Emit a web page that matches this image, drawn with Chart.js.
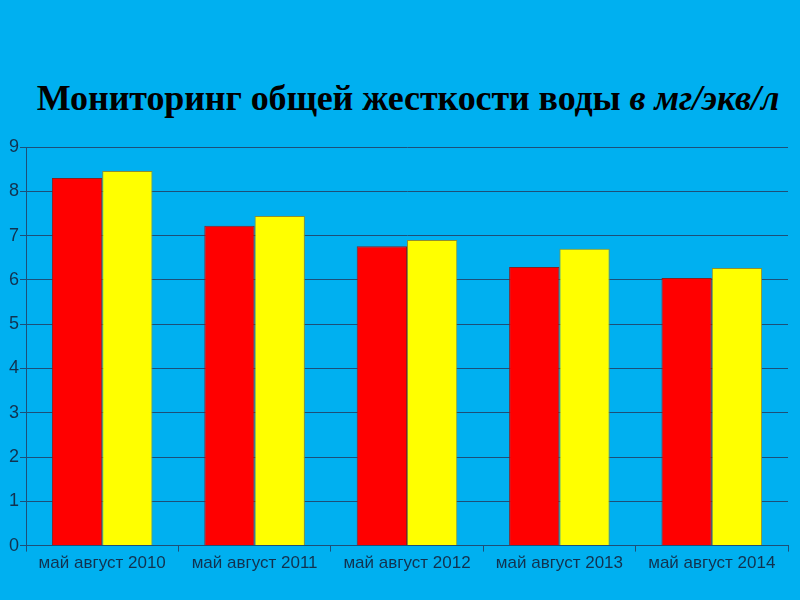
<!DOCTYPE html>
<html>
<head>
<meta charset="utf-8">
<script src="https://cdn.jsdelivr.net/npm/chart.js@4/dist/chart.umd.min.js"></script>
<style>
    body { margin: 0; background: #00B0F0; width: 800px; height: 600px; overflow: hidden; }
    #title {
        position: absolute; left: 8px; top: 77px; width: 800px; text-align: center;
        font: bold 36px "Liberation Serif", "Times New Roman", serif; color: #000;
        letter-spacing: -0.1px;
    }
    #title i { font-weight: bold; }
    #wrap { position: absolute; left: 0; top: 0; width: 800px; height: 600px; }
</style>
</head>
<body>
<div id="title">Мониторинг общей жесткости воды <i>в мг/экв/л</i></div>
<div id="wrap"><canvas id="chart"></canvas></div>
<script>
//categories and values
const periods = ['май август 2010', 'май август 2011', 'май август 2012', 'май август 2013', 'май август 2014'];
const mayValues = [8.30, 7.22, 6.76, 6.29, 6.04];
const augustValues = [8.46, 7.44, 6.90, 6.70, 6.27];

const gridColor = '#1d4f78';
const textColor = '#12324f';

document.addEventListener('DOMContentLoaded', function() {
    const ctx = document.getElementById('chart').getContext('2d');

    new Chart(ctx, {
        type: 'bar',
        data: {
            labels: periods,
            datasets: [{
                label: 'май',
                data: mayValues,
                backgroundColor: '#ff0000',
                borderColor: '#8a2020',
                borderWidth: 1,
                barPercentage: 1,
                categoryPercentage: 0.66
            }, {
                label: 'август',
                data: augustValues,
                backgroundColor: '#ffff00',
                borderColor: '#8f8f30',
                borderWidth: 1,
                barPercentage: 1,
                categoryPercentage: 0.66
            }]
        },
        options: {
            responsive: true,
            maintainAspectRatio: false,
            animation: false,
            layout: { padding: { top: 147, right: 12, left: 8, bottom: 24 } },
            plugins: {
                legend: { display: false },
                tooltip: { enabled: false }
            },
            scales: {
                x: {
                    grid: { drawOnChartArea: false, color: gridColor, tickLength: 6 },
                    border: { color: gridColor, width: 1 },
                    ticks: { color: textColor, font: { family: 'Liberation Sans', size: 17 }, maxRotation: 0, padding: 2 }
                },
                y: {
                    min: 0,
                    max: 9,
                    grid: { color: gridColor, tickLength: 6 },
                    border: { color: gridColor, width: 1 },
                    ticks: { stepSize: 1, color: textColor, font: { family: 'Liberation Sans', size: 18 }, padding: 1 }
                }
            }
        }
    });
});
</script>
</body>
</html>
